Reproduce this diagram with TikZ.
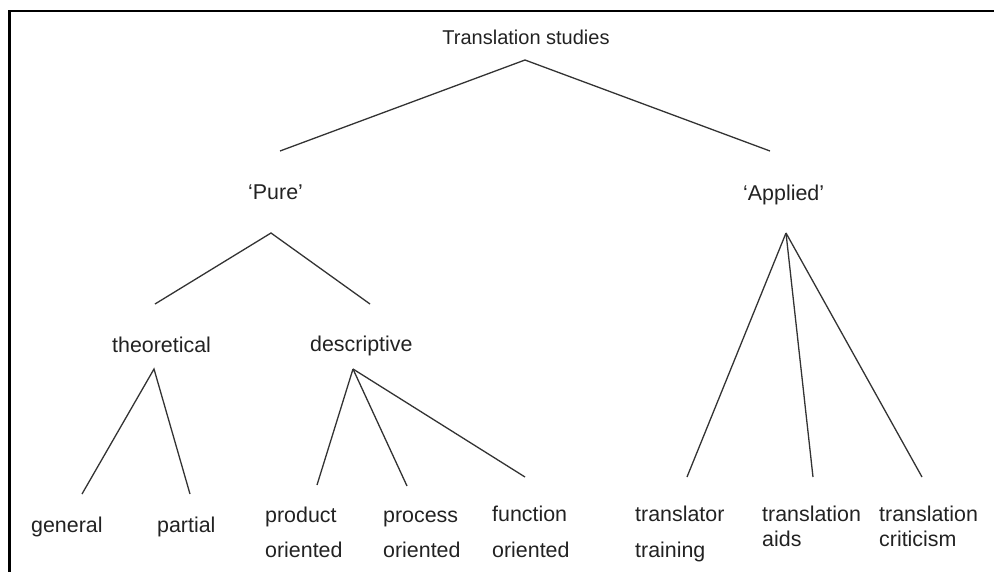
\documentclass[tikz,border=0pt]{standalone}
\usepackage{fontspec}
\setmainfont{Liberation Sans}
\definecolor{txt}{HTML}{222222}
\definecolor{ln}{HTML}{333333}
\begin{document}
\begin{tikzpicture}[x=1pt,y=-1pt,
  lbl/.style={anchor=base west, inner sep=0pt, font=\fontsize{21.4}{25}\selectfont, text=txt},
  conn/.style={draw=ln, line width=1.3pt},
  frame/.style={draw=black, line width=2.8pt}]
\useasboundingbox (0,0) rectangle (994,571);
% frame (left and top only)
\draw[frame] (9.5,572) -- (9.5,11) -- (995,11);
% labels
\node[lbl, anchor=base, font=\fontsize{20}{24}\selectfont] (ts) at (526,44) {Translation studies};
\node[lbl] (pure) at (248,199) {‘Pure’};
\node[lbl] (applied) at (743,200) {‘Applied’};
\node[lbl] (theo) at (112,352) {theoretical};
\node[lbl] (desc) at (310,351) {descriptive};
\node[lbl] (gen) at (31,532) {general};
\node[lbl] (part) at (157,532) {partial};
\node[lbl] (prod) at (265,522) {product};
\node[lbl] (prod2) at (265,557) {oriented};
\node[lbl] (proc) at (383,522) {process};
\node[lbl] (proc2) at (383,557) {oriented};
\node[lbl] (func) at (492,521) {function};
\node[lbl] (func2) at (492,557) {oriented};
\node[lbl] (trtr) at (635,521) {translator};
\node[lbl] (trtr2) at (635,557) {training};
\node[lbl] (aids) at (762,521) {translation};
\node[lbl] (aids2) at (762,546) {aids};
\node[lbl] (crit) at (879,521) {translation};
\node[lbl] (crit2) at (879,546) {criticism};
% connector ends
\coordinate (ts-top) at (525,60);
\coordinate (ts-l) at (280,151);
\coordinate (ts-r) at (770,151);
\coordinate (pure-top) at (271,233);
\coordinate (pure-l) at (155,304);
\coordinate (pure-r) at (370,304);
\coordinate (app-top) at (786,233);
\coordinate (app-1) at (687,477);
\coordinate (app-2) at (813,477);
\coordinate (app-3) at (922,477);
\coordinate (th-top) at (154,369);
\coordinate (th-1) at (82,494);
\coordinate (th-2) at (190,494);
\coordinate (de-top) at (353,369);
\coordinate (de-1) at (317,485);
\coordinate (de-2) at (407,486);
\coordinate (de-3) at (525,477);
% connectors
\draw[conn] (ts-l) -- (ts-top) -- (ts-r);
\draw[conn] (pure-l) -- (pure-top) -- (pure-r);
\draw[conn] (app-top) -- (app-1);
\draw[conn] (app-top) -- (app-2);
\draw[conn] (app-top) -- (app-3);
\draw[conn] (th-1) -- (th-top) -- (th-2);
\draw[conn] (de-top) -- (de-1);
\draw[conn] (de-top) -- (de-2);
\draw[conn] (de-top) -- (de-3);
\end{tikzpicture}
\end{document}
